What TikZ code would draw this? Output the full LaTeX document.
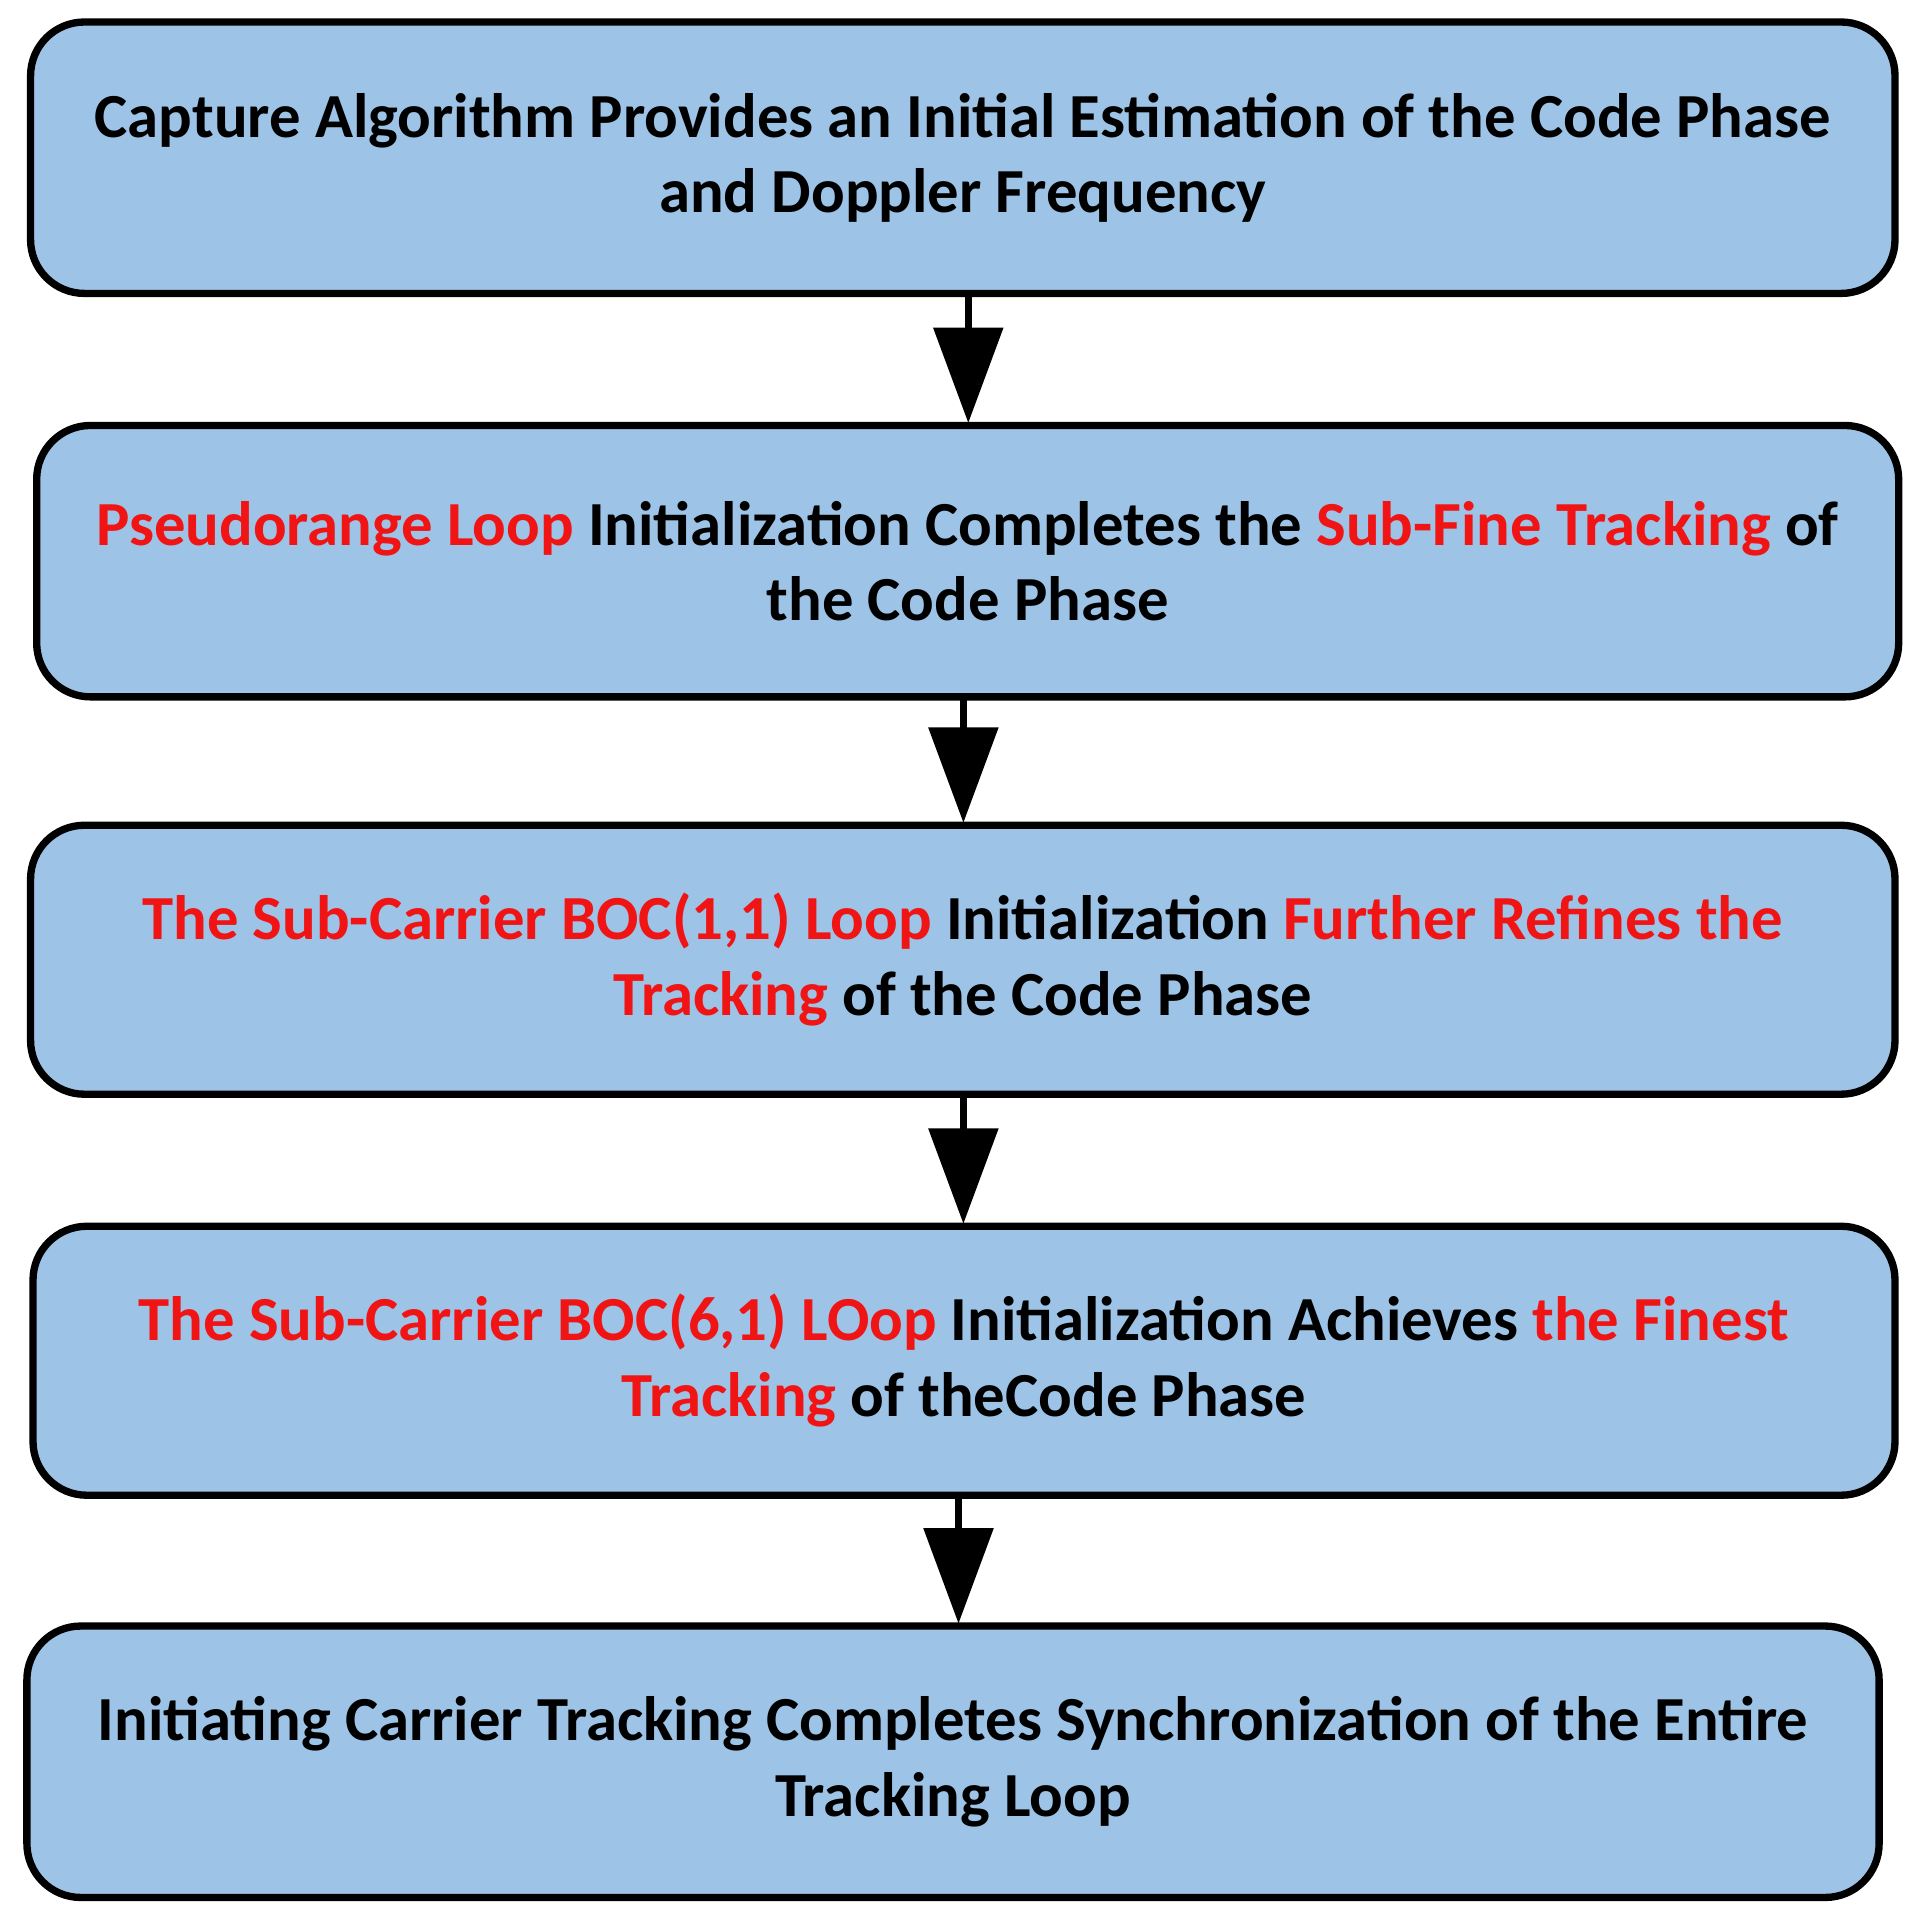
\documentclass[tikz,border=0pt]{standalone}
\usepackage{fontspec}
\setmainfont{Carlito}
\usetikzlibrary{arrows.meta}
\definecolor{boxblue}{RGB}{157,195,230}
\definecolor{hl}{RGB}{240,20,20}
\newcommand{\hr}[1]{\textcolor{hl}{#1}}
\begin{document}
\begin{tikzpicture}[x=0.05cm,y=-0.05cm,
  box/.style={draw=black,line width=0.3cm,fill=boxblue,rounded corners=2.2cm,align=center,
    font=\bfseries\fontsize{73}{88}\selectfont,inner sep=0pt},
  arr/.style={line width=0.3cm,-{Triangle[length=3.9cm,width=2.8cm]}}]
\useasboundingbox (0,0) rectangle (1568,1568);
\node[box,minimum width=1525*0.05cm,minimum height=222*0.05cm] (b1) at (787.5,129) {Capture Algorithm Provides an Initial Estimation of the Code Phase\\and Doppler Frequency};
\node[box,minimum width=1523*0.05cm,minimum height=222*0.05cm] (b2) at (791.5,459) {\hr{Pseudorange Loop} Initialization Completes the \hr{Sub-Fine Tracking} of\\the Code Phase};
\node[box,minimum width=1525*0.05cm,minimum height=220*0.05cm] (b3) at (787.5,785) {\hr{The Sub-Carrier BOC(1,1) Loop} Initialization \hr{Further Refines the}\\\hr{Tracking} of the Code Phase};
\node[box,minimum width=1523*0.05cm,minimum height=220*0.05cm] (b4) at (788.5,1113) {\hr{The Sub-Carrier BOC(6,1) LOop} Initialization Achieves \hr{the Finest}\\\hr{Tracking} of theCode Phase};
\node[box,minimum width=1515*0.05cm,minimum height=222*0.05cm] (b5) at (779.5,1441) {Initiating Carrier Tracking Completes Synchronization of the Entire\\Tracking Loop};
\draw[arr] (792,240) -- (792,346);
\draw[arr] (788,570) -- (788,673);
\draw[arr] (788,895) -- (788,1001);
\draw[arr] (784,1223) -- (784,1328);
\end{tikzpicture}
\end{document}
